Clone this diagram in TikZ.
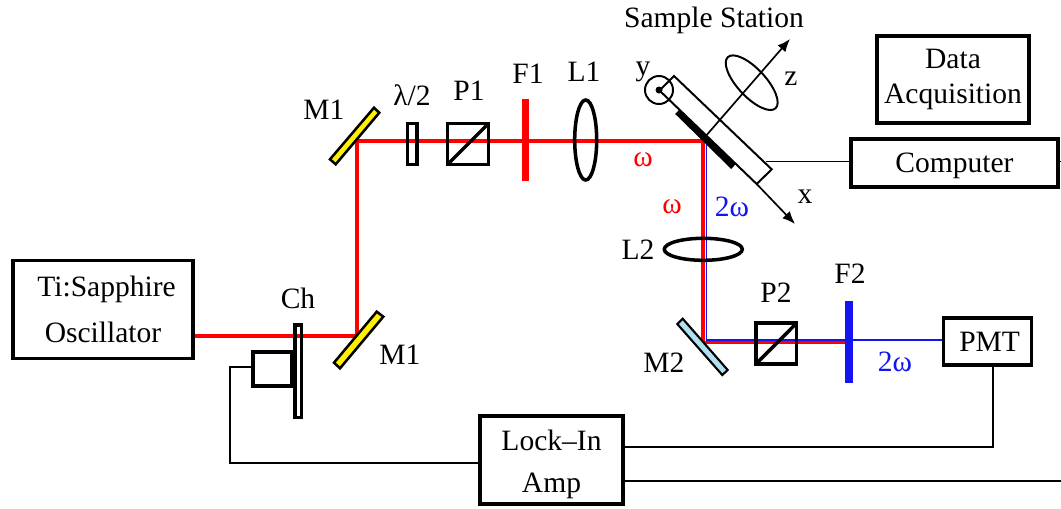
\documentclass[tikz,border=0pt]{standalone}
\usepackage{fontspec}
\setmainfont{Liberation Serif}
\usetikzlibrary{arrows.meta}
\definecolor{mirrorA}{RGB}{255,240,0}
\definecolor{mirrorB}{RGB}{175,225,240}
\definecolor{beamblue}{RGB}{20,20,240}
\tikzset{
	lab/.style={inner sep=0pt,font=\fontsize{21}{24}\selectfont},
	box/.style={draw,line width=2.7pt,fill=white,inner sep=0pt,align=center,font=\fontsize{21}{24.8}\selectfont},
	wire/.style={line width=1.2pt},
	axis/.style={line width=1.2pt,-{Latex[length=3.2mm,width=2.6mm]}},
	redbeam/.style={red,line width=2.7pt},
	bluebeam/.style={beamblue,line width=1.2pt},
	optic/.style={draw,line width=2.5pt},
}
\begin{document}
\begin{tikzpicture}[x=0.025cm,y=-0.025cm]
	\useasboundingbox (0,0) rectangle (1061,508);
	% boxes
	\node[box,minimum width=180*0.025cm,minimum height=98*0.025cm,font=\fontsize{21}{32.6}\selectfont] (osc) at (103,309.5) {\kern5pt Ti:Sapphire\\Oscillator};
	\node[box,minimum width=152*0.025cm,minimum height=87*0.025cm] (daq) at (953,79.5) {Data\\Acquisition};
	\node[box,minimum width=207*0.025cm,minimum height=48*0.025cm] (comp) at (954.5,163) {\rule{0pt}{17.5pt}Computer};
	\node[box,minimum width=88*0.025cm,minimum height=47*0.025cm] (pmt) at (987.5,341.5) {\kern3pt PMT};
	\node[box,minimum width=143.5*0.025cm,minimum height=88.5*0.025cm,font=\fontsize{21}{29.8}\selectfont] (lock) at (551.5,460) {\rule{0pt}{21pt}Lock--In\\Amp};
	% free ends of the beams and wires
	\coordinate (m1low) at (356.7,335.7);
	\coordinate (m1up) at (356.7,141);
	\coordinate (sam) at (702.7,141);
	\coordinate (m2red) at (702.7,342.5);
	\coordinate (f2red) at (849,342.5);
	\coordinate (sam2) at (706.5,141);
	\coordinate (m2blue) at (706.5,340);
	\coordinate (end1) at (1061,161.5);
	\coordinate (end2) at (1061,480.7);
	% beams
	\draw[redbeam] (osc.east |- m1low) -- (m1low) -- (m1up) -- (sam) -- (m2red) -- (f2red);
	\draw[bluebeam] (sam2) -- (m2blue) -- (pmt.west |- m2blue);
	% mirrors
	\draw[line width=1.8pt,fill=mirrorA] (376.7,311.7) -- (383.3,316.7) -- (340,368.3) -- (334,362.7) -- cycle;
	\draw[line width=1.8pt,fill=mirrorA] (374,107.7) -- (379.3,112.7) -- (335.7,164.3) -- (330,159.3) -- cycle;
	\draw[line width=1.5pt,fill=mirrorB] (682.7,318.7) -- (677.3,324) -- (722.3,375) -- (727.7,370) -- cycle;
	% optics on the beam
	\draw[optic] (407.5,123.5) rectangle (417,164.5);
	\draw[optic] (447.5,123.5) rectangle (488.5,164.5);
	\draw[optic] (447.5,164.5) -- (488.5,123.5);
	\fill[red] (521.7,99.3) rectangle (529.3,180.7);
	\draw[line width=2.5pt] (585.7,140) ellipse (11 and 40);
	\draw[line width=2.5pt] (703.3,249.3) ellipse (39 and 11);
	\draw[optic] (756,323) rectangle (796.7,364);
	\draw[optic] (756,364) -- (796.7,323);
	\fill[beamblue] (845,301.3) rectangle (853.3,383.3);
	% chopper
	\draw[line width=2.8pt] (253.2,352.3) rectangle (292.2,386.3);
	\draw[line width=2.4pt] (295,325) rectangle (301.7,417.6);
	\coordinate (mot) at (251.7,367.3);
	\draw[wire] (mot) -| (230,462.7) -- (lock.west |- 230,462.7);
	% sample station
	\draw[line width=1.4pt] (660,90) -- (674,76) -- (771.7,169.3) -- (756.7,184) -- (660,91);
	\draw[line width=4.4pt] (677.3,111.7) -- (733.3,166.7);
	\draw[axis] (756.7,184) -- (795,224);
	\draw[axis] (706.7,135) -- (790,39);
	\draw[line width=1.4pt,rotate around={-47:(751.7,82.7)}] (751.7,82.7) ellipse (35 and 14);
	\draw[line width=1.4pt] (659,90) circle (14);
	\fill (659,90) circle (3.5);
	% wires
	\draw[wire] (765.5,161.5) -- (comp.west |- 765.5,161.5);
	\draw[wire] (comp.east |- end1) -- (end1);
	\draw[wire] (pmt.south -| 992.7,367) |- (lock.east |- 992.7,446.7);
	\draw[wire] (lock.east |- end2) -- (end2);
	% labels
	\node[lab] (m1a) at (324,110) {M1};
	\node[lab] (wp) at (412,95) {λ/2};
	\node[lab] (p1) at (469,91) {P1};
	\node[lab] (f1) at (528,74) {F1};
	\node[lab] (l1) at (584,72) {L1};
	\node[lab] (st) at (714,20) {Sample Station};
	\node[lab] (ly) at (643,72) {y};
	\node[lab] (lz) at (791,79) {z};
	\node[lab] (lx) at (805,197) {x};
	\node[lab,red] (w1) at (643,160) {ω};
	\node[lab,red] (w2) at (672,207) {ω};
	\node[lab,beamblue] (w3) at (732,207) {2ω};
	\node[lab] (l2) at (638,250) {L2};
	\node[lab] (m2) at (664,363) {M2};
	\node[lab] (p2) at (776,293) {P2};
	\node[lab] (f2) at (850,274) {F2};
	\node[lab,beamblue] (w4) at (895,362) {2ω};
	\node[lab] (ch) at (298,298) {Ch};
	\node[lab] (m1b) at (400,355) {M1};
\end{tikzpicture}
\end{document}
